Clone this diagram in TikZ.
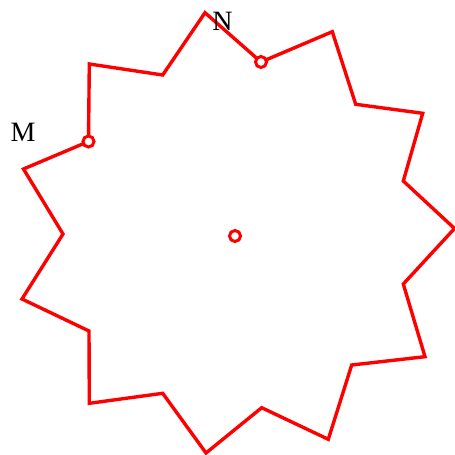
\documentclass[tikz,border=0pt]{standalone}
\usepackage{fontspec}
\setmainfont{Liberation Serif}
\begin{document}
\begin{tikzpicture}[x=1pt,y=-1pt,
  edge/.style={draw=red,line width=3.4pt,line join=miter},
  marker/.style={circle,draw=red,fill=white,line width=3pt,minimum size=11pt,inner sep=0pt},
  lbl/.style={font=\fontsize{28}{31}\selectfont,inner sep=0pt}]
\useasboundingbox (0,0) rectangle (455,455);
\coordinate (N) at (261,62);
\coordinate (M) at (88.5,141.5);
\coordinate (O) at (235,236);
\draw[edge] (205,12.7) -- (N) -- (332.3,31.7) -- (355.7,104.3) -- (422.7,113.3)
  -- (403.3,181) -- (454.5,228.5) -- (403.3,284) -- (425,356.7) -- (351.7,365)
  -- (328.3,439.3) -- (261.7,407.7) -- (206,453) -- (162.7,393.3) -- (89.3,403.3)
  -- (89,331) -- (22,299) -- (63,234) -- (23.5,169) -- (M) -- (89.3,64)
  -- (162.7,75) -- cycle;
\node[marker] (mN) at (N) {};
\node[marker] (mM) at (M) {};
\node[marker] (mO) at (O) {};
\node[lbl] (tN) at (222.5,21.5) {N};
\node[lbl] (tM) at (23,132) {M};
\end{tikzpicture}
\end{document}
